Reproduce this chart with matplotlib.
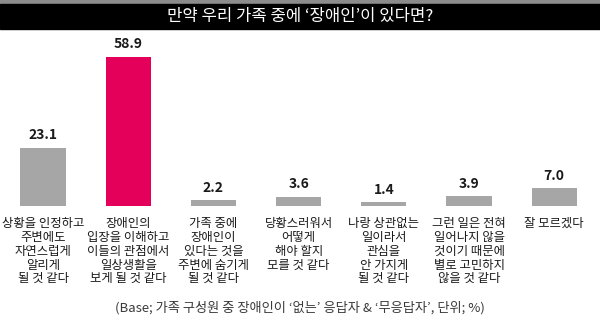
import matplotlib
matplotlib.use("Agg")
import matplotlib.pyplot as plt
from matplotlib.patches import Rectangle

plt.rcParams['font.family'] = ['Noto Sans CJK KR', 'DejaVu Sans']

title = "만약 우리 가족 중에 ‘장애인’이 있다면?"
categories = [
    "상황을 인정하고\n주변에도\n자연스럽게\n알리게\n될 것 같다",
    "장애인의\n입장을 이해하고\n이들의 관점에서\n일상생활을\n보게 될 것 같다",
    "가족 중에\n장애인이\n있다는 것을\n주변에 숨기게\n될 것 같다",
    "당황스러워서\n어떻게\n해야 할지\n모를 것 같다",
    "나랑 상관없는\n일이라서\n관심을\n안 가지게\n될 것 같다",
    "그런 일은 전혀\n일어나지 않을\n것이기 때문에\n별로 고민하지\n않을 것 같다",
    "잘 모르겠다",
]
values = [23.1, 58.9, 2.2, 3.6, 1.4, 3.9, 7.0]
highlight = 1
note = "(Base; 가족 구성원 중 장애인이 ‘없는’ 응답자 & ‘무응답자’, 단위; %)"

gray = "#a6a6a6"
pink = "#e4005a"

fig = plt.figure(figsize=(6, 3.25), dpi=100)

# title bar
fig.patches.append(Rectangle((0, 1 - 4/325), 1, 4/325, transform=fig.transFigure,
                             color="#8c8c8c", zorder=0))
fig.patches.append(Rectangle((0, 1 - 29/325), 1, 25/325, transform=fig.transFigure,
                             color="black", zorder=0))
fig.text(0.5, 1 - 16.5/325, title, color="white", fontsize=12,
         ha="center", va="center")

ax = fig.add_axes([0, 119/325, 1, 166/325])
x = list(range(len(values)))
colors = [pink if i == highlight else gray for i in x]
ax.bar(x, values, width=0.53, color=colors)
ax.set_xlim(-0.505, 6.537)
ax.set_ylim(0, 65.6)
ax.axis("off")

for xi, v in zip(x, values):
    ax.annotate(f"{v:.1f}", (xi, v), xytext=(0, 4), textcoords="offset points",
                ha="center", va="bottom", fontsize=10, fontweight="bold",
                color="#1a1a1a")
    ax.annotate(categories[xi], (xi, 0), xytext=(0, -8), textcoords="offset points",
                ha="center", va="top", fontsize=8.9, fontweight="medium",
                color="#1a1a1a", linespacing=1.08)

fig.text(0.5, 1 - 308/325, note, ha="center", va="center", fontsize=9.5,
         color="#3a3a3a")

fig.savefig("out.png", dpi=100)
